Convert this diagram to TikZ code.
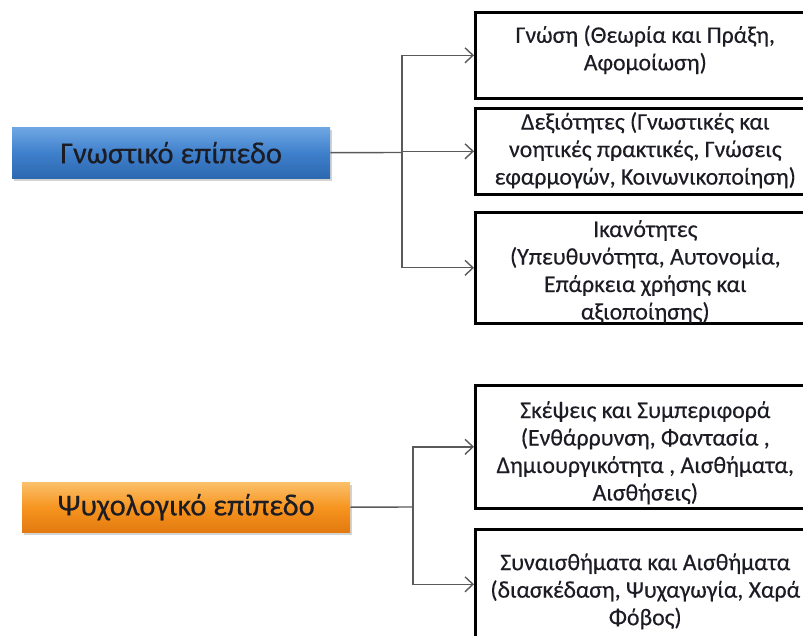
\documentclass[tikz,border=0pt]{standalone}
\usepackage{fontspec}
\setmainfont{Carlito}
\newfontfamily\boxfont{Carlito}[FakeBold=0.35]
\usetikzlibrary{arrows.meta,shadows}
\definecolor{blueTop}{HTML}{6FA7E4}
\definecolor{blueMid}{HTML}{3F80CC}
\definecolor{blueBot}{HTML}{2C68B0}
\definecolor{orTop}{HTML}{FBC06A}
\definecolor{orMid}{HTML}{F7951F}
\definecolor{orBot}{HTML}{E27A10}
\definecolor{wire}{HTML}{5A5A5A}
\definecolor{ink}{HTML}{1C1C24}
\begin{document}
\begin{tikzpicture}[x=1pt,y=-1pt,
  item/.style={draw=black, line width=2.6pt, minimum width=340pt, inner sep=0pt,
    anchor=north west},
  itemtext/.style={align=center, inner sep=0pt, text=ink,
    font=\boxfont\fontsize{23.8}{27.5}\selectfont},
  level/.style={anchor=north west, inner sep=0pt, text=ink,
    font=\boxfont\fontsize{30.5}{34}\selectfont,
    drop shadow={shadow xshift=2pt, shadow yshift=-3pt, opacity=0.35}},
  bluelevel/.style={level, top color=blueTop, bottom color=blueBot, middle color=blueMid},
  orangelevel/.style={level, top color=orTop, bottom color=orBot, middle color=orMid},
  link/.style={draw=wire, line width=1.4pt},
  tip/.style={link, -{Straight Barb[length=8pt, width=15pt, line width=1.4pt]}}
]
\useasboundingbox (0,0) rectangle (803,636);
\clip (0,0) rectangle (803,636);

% cognitive level and its three items
\node[bluelevel, minimum width=318pt, minimum height=51pt] (cog) at (12,127) {Γνωστικό επίπεδο};
\node[item, minimum height=86pt] (k1) at (474,11) {};
\node[item, minimum height=86pt] (k2) at (474,107) {};
\node[item, minimum height=111pt] (k3) at (474,211) {};
\node[itemtext] (k1t) at ([yshift=5.5pt]k1.center) {Γνώση (Θεωρία και Πράξη,\\Αφομοίωση)};
\node[itemtext] (k2t) at ([yshift=1pt]k2.center) {Δεξιότητες (Γνωστικές και\\νοητικές πρακτικές, Γνώσεις\\εφαρμογών, Κοινωνικοποίηση)};
\node[itemtext] (k3t) at ([yshift=-4pt]k3.center) {Ικανότητες\\(Υπευθυνότητα, Αυτονομία,\\Επάρκεια χρήσης και\\αξιοποίησης)};

% psychological level and its two items
\node[orangelevel, minimum width=328pt, minimum height=50pt] (psy) at (22,482) {Ψυχολογικό επίπεδο};
\node[item, minimum height=123pt] (p1) at (474,384) {};
\node[item, minimum height=110pt] (p2) at (474,528) {};
\node[itemtext] (p1t) at ([yshift=-6pt]p1.center) {Σκέψεις και Συμπεριφορά\\(Ενθάρρυνση, Φαντασία ,\\Δημιουργικότητα , Αισθήματα,\\Αισθήσεις)};
\node[itemtext] (p2t) at ([yshift=-7pt]p2.center) {Συναισθήματα και Αισθήματα\\(διασκέδαση, Ψυχαγωγία, Χαρά\\Φόβος)};

% branching connectors
\coordinate (jc) at (402,152.5);
\coordinate (jp) at (413,507);
\draw[link] (cog.east) -- (jc);
\draw[tip] (jc) |- (k1.west);
\draw[tip] (jc) |- (k2.west);
\draw[tip] (jc) |- (k3.west);
\draw[link] (psy.east) -- (jp);
\draw[tip] (jp) |- (p1.west);
\draw[tip] (jp) |- (p2.west);
\end{tikzpicture}
\end{document}
